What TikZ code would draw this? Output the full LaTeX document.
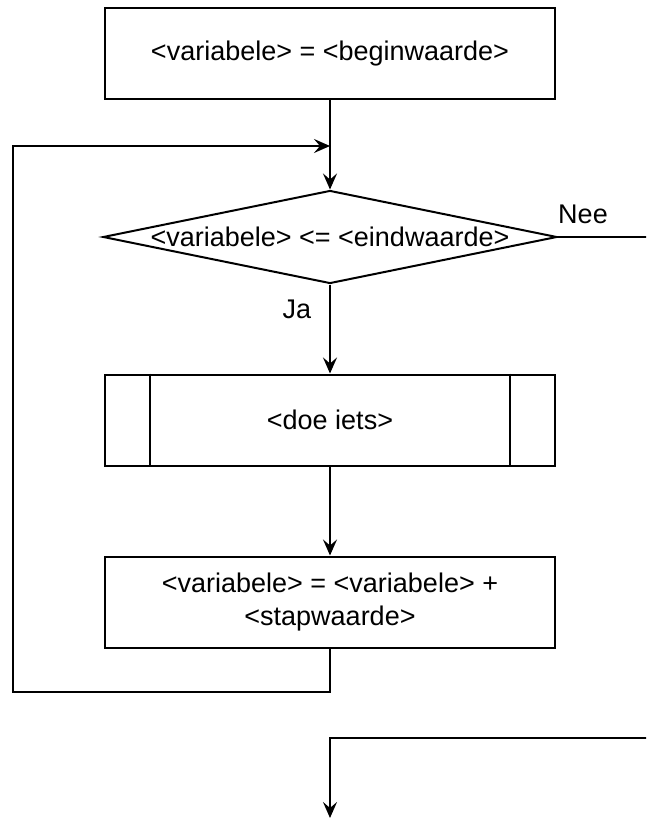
\documentclass[tikz,border=0pt]{standalone}
\usepackage{fontspec}
\setmainfont{Liberation Sans}
\usetikzlibrary{shapes.geometric,arrows.meta,calc}
\begin{document}
\begin{tikzpicture}[x=1pt,y=-1pt,
  txt/.style={font=\fontsize{27}{33}\selectfont},
  box/.style={draw=black, line width=2pt, minimum width=450pt, minimum height=91pt,
              inner sep=0pt, align=center, txt},
  link/.style={draw=black, line width=2pt, -{Stealth[length=16pt,width=14pt,inset=6pt]}}]
\useasboundingbox (0,0) rectangle (646,834);
\clip (0,0) rectangle (646,834);

% statements and the loop test
\node[box] (init) at (330,54) {<variabele> = <beginwaarde>};
\node[draw=black, line width=2pt, diamond, minimum width=454pt, minimum height=93pt,
      inner sep=0pt] (cond) at (330,237) {};
\node[txt] (condtext) at (cond.center) {<variabele> <= <eindwaarde>};
\node[box] (body) at (330,420) {<doe iets>};
\draw[line width=2pt] ($(body.north west)+(46,0)$) -- ($(body.south west)+(46,0)$);
\draw[line width=2pt] ($(body.north east)+(-46,0)$) -- ($(body.south east)+(-46,0)$);
\node[box] (incr) at (330,602) {<variabele> = <variabele> +\\<stapwaarde>};

% branch labels
\node[txt] (nee) at (583,214) {Nee};
\node[txt] (ja) at (297,309) {Ja};

% routing points
\coordinate (loopin) at (330,146);
\coordinate (loopbl) at (13,692);
\coordinate (nee1) at (652,237);
\coordinate (nee2) at (652,738);
\coordinate (exitend) at (330,818);

% connectors
\draw[link] (init.south) -- (cond.north);
\draw[link] (cond.south) -- (body.north);
\draw[link] (body.south) -- (incr.north);
\draw[link] (incr.south) |- (loopbl) |- (loopin);
\draw[link] (cond.east) -- (nee1) -- (nee2) -| (exitend);
\end{tikzpicture}
\end{document}
